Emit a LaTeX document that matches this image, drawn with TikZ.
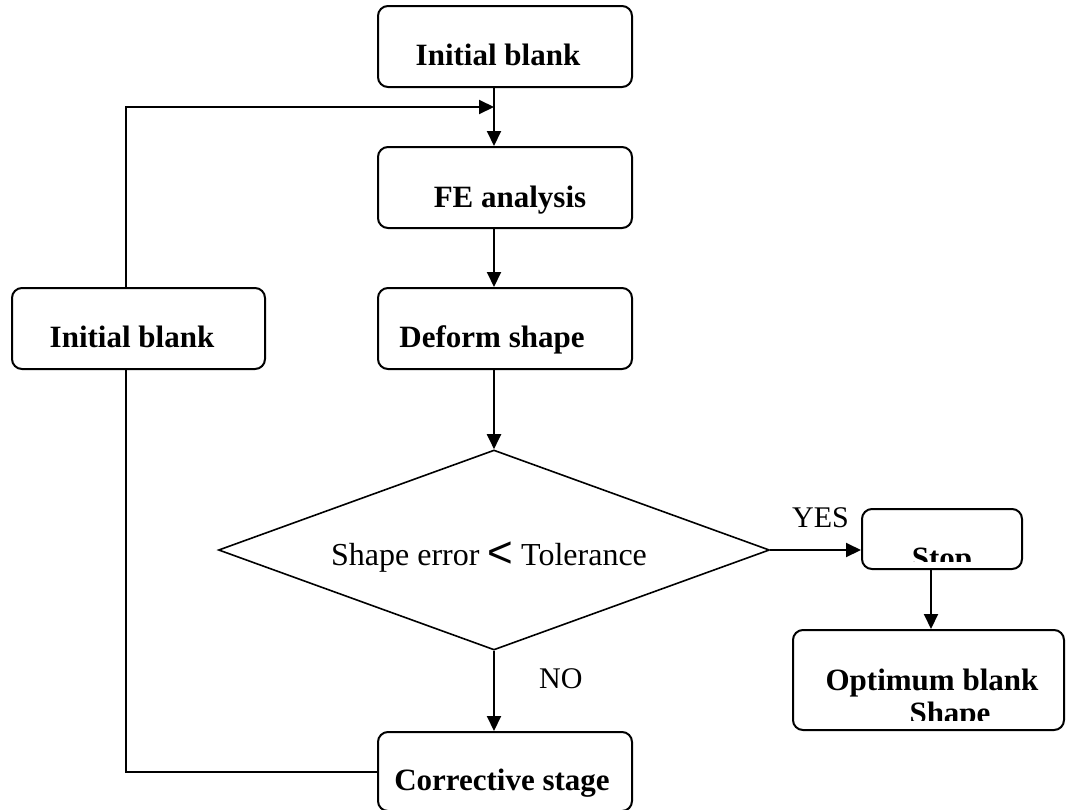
\documentclass[tikz,border=0pt]{standalone}
\usepackage{fontspec}
\setmainfont{Liberation Serif}
\newfontfamily\lsans{Liberation Sans}
\usetikzlibrary{arrows.meta,shapes.geometric}
\begin{document}
\begin{tikzpicture}[x=1pt,y=-1pt,
  box/.style={draw, line width=2pt, rounded corners=10pt, inner sep=0pt},
  btxt/.style={font=\fontsize{31}{31}\selectfont\bfseries, anchor=base, inner sep=0pt},
  rtxt/.style={font=\fontsize{30}{30}\selectfont, anchor=base west, inner sep=0pt},
  conn/.style={line width=2pt},
  arr/.style={conn, -{Triangle[length=15pt,width=14pt]}}]
\useasboundingbox (0,0) rectangle (1066,809);
% boxes
\node[box, minimum width=254pt, minimum height=81pt] (init) at (505,46.5) {};
\node[btxt] (initT) at (498,65) {Initial blank};
\node[box, minimum width=254pt, minimum height=81pt] (fe) at (505,187.5) {};
\node[btxt] (feT) at (510,207) {FE analysis};
\node[box, minimum width=254pt, minimum height=81pt] (deform) at (505,328.5) {};
\node[btxt] (deformT) at (492,347) {Deform shape};
\node[box, minimum width=253pt, minimum height=81pt] (left) at (138.5,328.5) {};
\node[btxt] (leftT) at (132,347) {Initial blank};
\node[draw, diamond, line width=1.6pt, minimum width=551pt, minimum height=200pt, inner sep=0pt] (dia) at (494,550) {};
\node[font=\fontsize{32}{32}\selectfont, anchor=base, inner sep=0pt] (diaT) at (489,565) {Shape error {\lsans\fontsize{44}{44}\selectfont\raisebox{-2pt}{<}} Tolerance};
\node[box, minimum width=160pt, minimum height=60pt] (stop) at (942,539) {};
\begin{scope}
\clip (862,509) rectangle (1022,561);
\node[btxt] (stopT) at (942,568) {Stop};
\end{scope}
\node[box, minimum width=271pt, minimum height=100pt] (opt) at (928.5,680) {};
\node[btxt] (optT1) at (932,690) {Optimum blank};
\begin{scope}
\clip (793,630) rectangle (1064,720);
\node[btxt] (optT2) at (950,723) {Shape};
\end{scope}
\node[box, minimum width=254pt, minimum height=79pt] (corr) at (505,771.5) {};
\node[btxt] (corrT) at (502,790) {Corrective stage};
% labels
\node[rtxt] (yes) at (792,527) {YES};
\node[rtxt] (no) at (539,688) {NO};
% connectors
\coordinate (lx) at (126,107);
\coordinate (join) at (494,107);
\coordinate (sx) at (931,600);
\draw[arr] (init.south -| dia.north) -- (fe.north -| dia.north);
\draw[arr] (fe.south -| dia.north) -- (deform.north -| dia.north);
\draw[arr] (deform.south -| dia.north) -- (dia.north);
\draw[arr] (dia.south) -- (corr.north -| dia.south);
\draw[arr] (left.north -| lx) -- (lx) -- (join);
\draw[conn] (left.south -| lx) |- (corr.west);
\draw[arr] (dia.east) -- (dia.east -| stop.west);
\draw[arr] (stop.south -| sx) -- (opt.north -| sx);
\end{tikzpicture}
\end{document}
